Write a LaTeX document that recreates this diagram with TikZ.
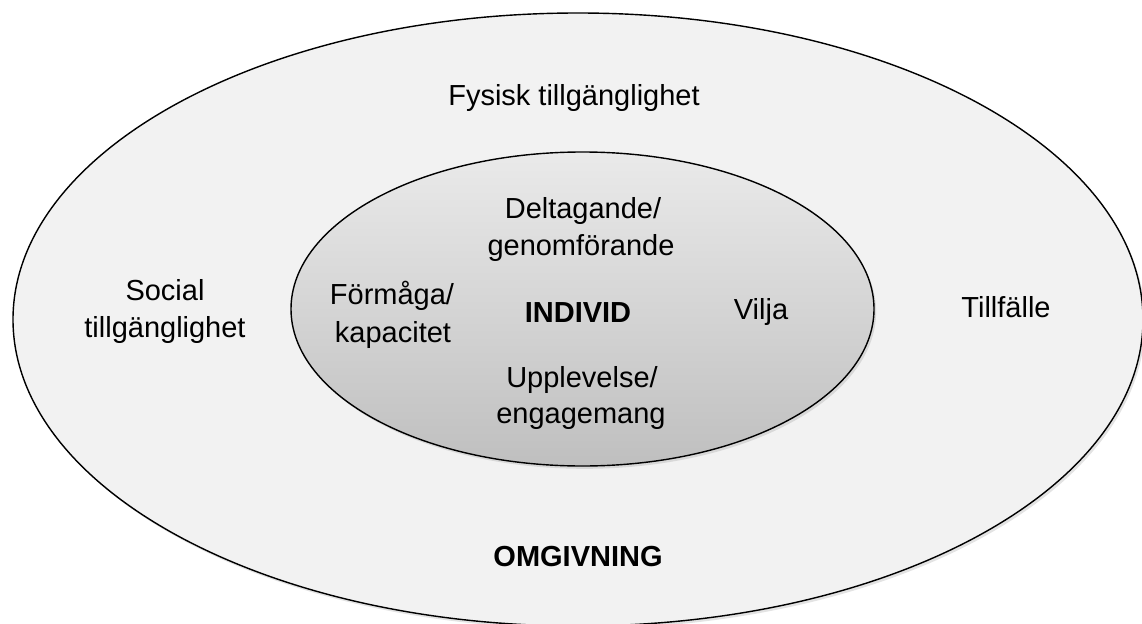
\documentclass[tikz,border=0pt]{standalone}
\usepackage{fontspec}
\setmainfont{Liberation Sans}
\usepackage{tikz}
\usetikzlibrary{shadows}
\usepackage{xcolor}

\definecolor{omgfill}{HTML}{F2F2F2}
\definecolor{indtop}{HTML}{EAEAEA}
\definecolor{indbot}{HTML}{BFBFBF}

\tikzset{
    ring/.style = {draw = black, line width = 0.8pt,
        drop shadow = {shadow xshift = 1.2pt, shadow yshift = -1.6pt, opacity = 0.22}},
    label/.style = {anchor = base, inner sep = 0pt, font = \fontsize{16.5}{21}\selectfont},
    biglabel/.style = {label, font = \fontsize{16.5}{21}\selectfont\bfseries}
}

\begin{document}
\begin{tikzpicture}[x = 0.02cm, y = 0.02cm]
        \useasboundingbox (0,0) rectangle (1142,623);
        \fill[white] (0,0) rectangle (1142,623);
        \clip (0,0) rectangle (1142,623);

        \begin{scope}
            \path[ring, fill = omgfill] (578,303.5) ellipse [x radius = 565, y radius = 306.5];
            \node[label] (fysisk) at (574,517) {Fysisk tillgänglighet};
            \node[label] (social1) at (165,323) {Social};
            \node[label] (social2) at (165,286) {tillgänglighet};
            \node[label] (tillfalle) at (1006,306) {Tillfälle};
            \node[biglabel] (omgivning) at (578,57) {OMGIVNING};
        \end{scope}

        \begin{scope}
            \path[ring, top color = indtop, bottom color = indbot] (582.5,314) ellipse [x radius = 291.5, y radius = 157];
            \node[label] (delta1) at (583,405) {Deltagande/};
            \node[label] (delta2) at (581,368) {genomförande};
            \node[label] (formaga1) at (392,319) {Förmåga/};
            \node[label] (formaga2) at (393,281) {kapacitet};
            \node[biglabel] (individ) at (578,300.5) {INDIVID};
            \node[label] (vilja) at (761,303.5) {Vilja};
            \node[label] (upp1) at (582,236) {Upplevelse/};
            \node[label] (upp2) at (581,199.5) {engagemang};
        \end{scope}
    \end{tikzpicture}
\end{document}
